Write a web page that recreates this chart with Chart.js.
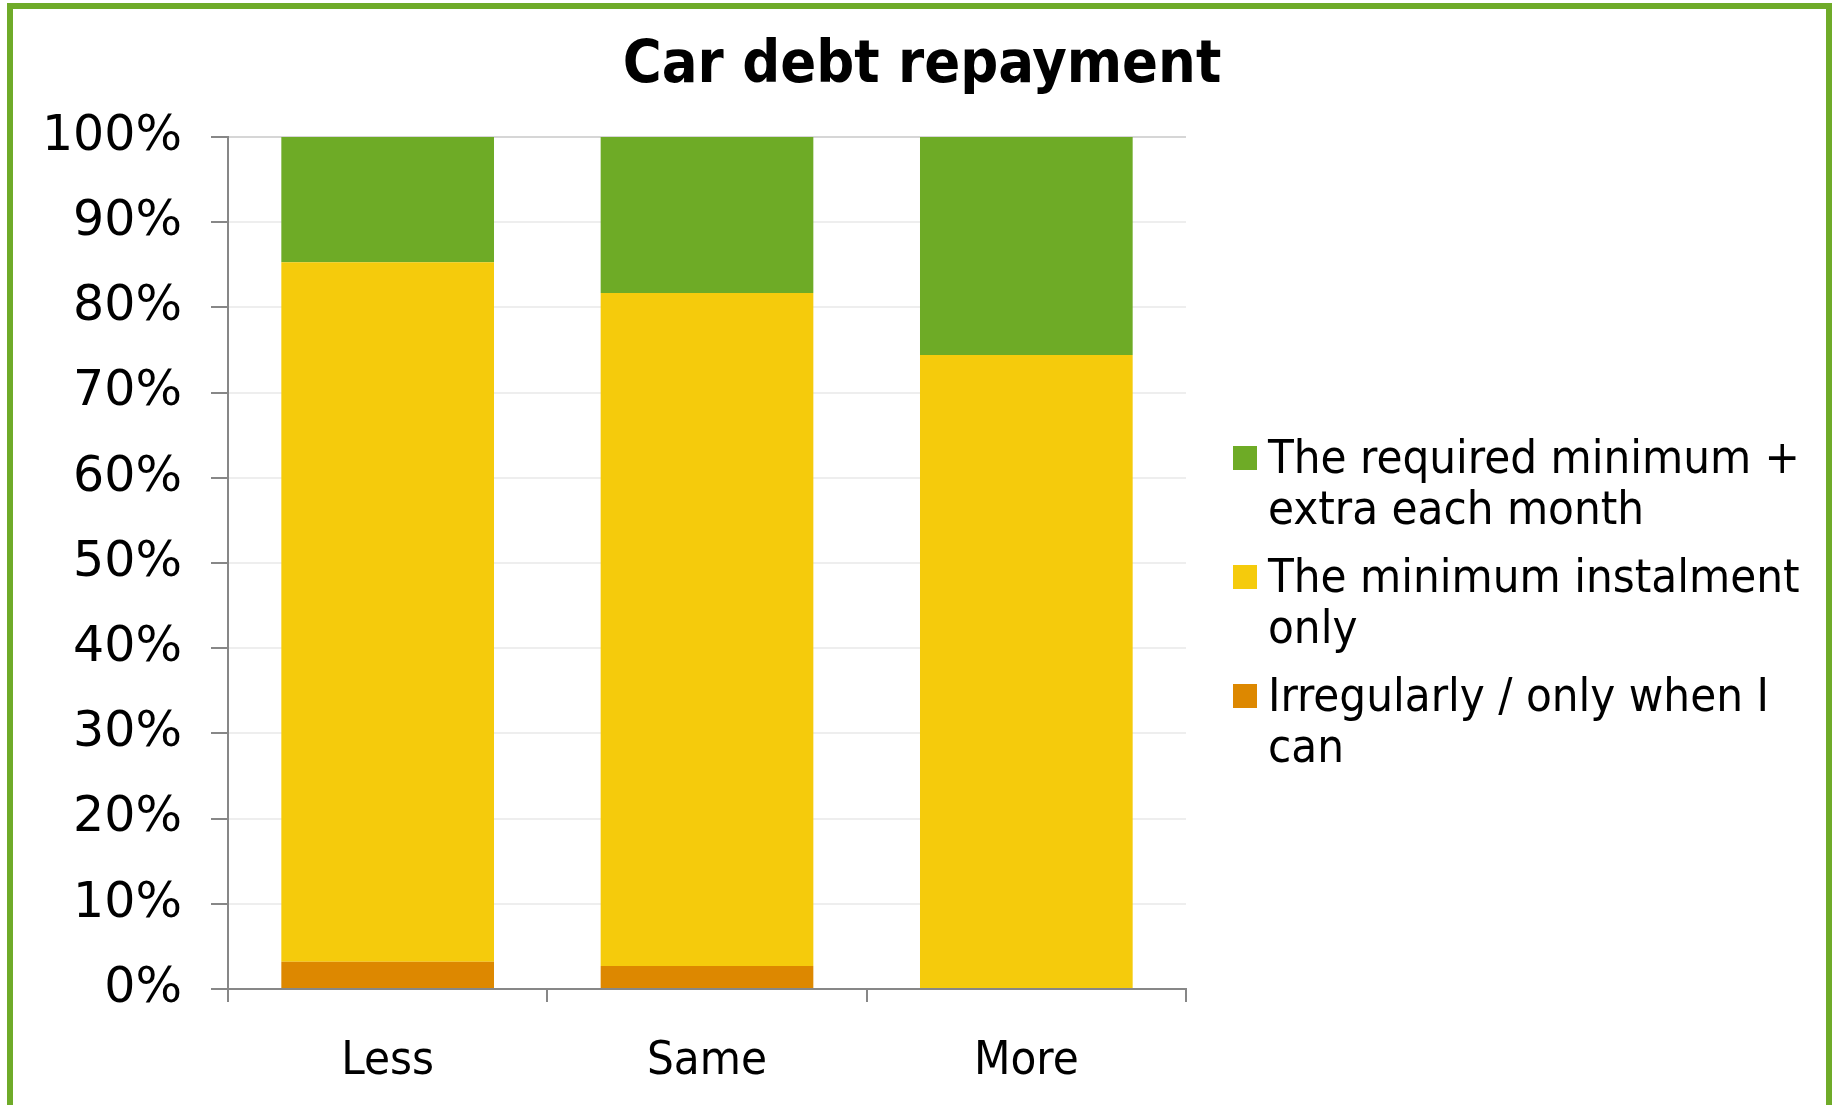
<!DOCTYPE html>
<html>
<head>
<meta charset="utf-8">
<title>Car debt repayment</title>
<script src="https://cdn.jsdelivr.net/npm/chart.js@4/dist/chart.umd.min.js"></script>
<style>
  html, body { margin: 0; padding: 0; background: #ffffff; }
  body { width: 1834px; height: 1105px; position: relative; overflow: hidden; }
  #frame {
    position: absolute; left: 7px; top: 3px; width: 1825px; height: 1200px;
    box-sizing: border-box; border: 6px solid #6fab29; background: #ffffff;
  }
  #chart { position: absolute; left: 0; top: 0; }
</style>
</head>
<body>
<div id="frame"></div>
<canvas id="chart" width="1834" height="1105"></canvas>
<script>
// Categories and stacked shares (percent of respondents)
const categories = ['Less', 'Same', 'More'];
const irregularShare = [3.2, 2.7, 0];
const minimumOnlyShare = [82.1, 79.0, 74.4];
const extraShare = [14.7, 18.3, 25.6];

// Series names, split where the legend wraps them
const irregularName = ['Irregularly / only when I', 'can'];
const minimumOnlyName = ['The minimum instalment', 'only'];
const extraName = ['The required minimum +', 'extra each month'];

const yTicks = [0, 10, 20, 30, 40, 50, 60, 70, 80, 90, 100];
const chartTitle = 'Car debt repayment';

const AXIS_GREY = '#878787';
const GRID_GREY = '#eeeeee';
const EDGE_GREY = '#d6d6d6';
const LABEL_FONT = "'DejaVu Sans Condensed', 'DejaVu Sans', sans-serif";

// Title centred over the whole frame, and a wrapped legend listed
// top-down in reverse stacking order
const frameDecor = {
  id: 'frameDecor',
  afterDraw(chart) {
    const ctx = chart.ctx;
    ctx.save();
    ctx.fillStyle = '#000000';
    ctx.textAlign = 'center';
    ctx.textBaseline = 'alphabetic';
    ctx.font = 'bold 59px ' + LABEL_FONT;
    ctx.fillText(chartTitle, 922, 82);

    const sets = chart.data.datasets.slice().reverse();
    const boxX = 1233, boxSize = 24, textX = 1268;
    let top = 446;
    ctx.font = '47px ' + LABEL_FONT;
    ctx.textAlign = 'left';
    sets.forEach(ds => {
      ctx.fillStyle = ds.backgroundColor;
      ctx.fillRect(boxX, top, boxSize, boxSize);
      ctx.fillStyle = '#000000';
      ds.nameLines.forEach((line, i) => {
        ctx.fillText(line, textX, top + 27 + i * 51);
      });
      top += 119;
    });
    ctx.restore();
  }
};

new Chart(document.getElementById('chart'), {
  type: 'bar',
  data: {
    labels: categories,
    datasets: [
      { label: irregularName.join(' '), nameLines: irregularName, data: irregularShare, backgroundColor: '#dd8800' },
      { label: minimumOnlyName.join(' '), nameLines: minimumOnlyName, data: minimumOnlyShare, backgroundColor: '#f5cb0c' },
      { label: extraName.join(' '), nameLines: extraName, data: extraShare, backgroundColor: '#6eab26' }
    ]
  },
  options: {
    responsive: false,
    animation: false,
    layout: { padding: { top: 137, left: 0, right: 648, bottom: 0 } },
    datasets: { bar: { categoryPercentage: 1, barPercentage: 0.666, borderWidth: 0 } },
    plugins: {
      legend: { display: false },
      tooltip: { enabled: false },
      title: { display: false }
    },
    scales: {
      x: {
        stacked: true,
        afterFit: s => { s.height = 116; },
        border: { color: AXIS_GREY, width: 2 },
        grid: {
          offset: true,
          lineWidth: 2,
          color: c => (c.index === categories.length ? EDGE_GREY : 'rgba(0,0,0,0)'),
          tickColor: AXIS_GREY,
          tickLength: 13
        },
        ticks: {
          color: '#000000',
          padding: 32,
          font: { family: LABEL_FONT, size: 47 }
        }
      },
      y: {
        stacked: true,
        min: 0,
        max: 100,
        afterFit: s => { s.width = 228; },
        afterBuildTicks: s => { s.ticks = yTicks.map(v => ({ value: v })); },
        border: { color: AXIS_GREY, width: 2 },
        grid: {
          lineWidth: 2,
          color: c => (c.tick && c.tick.value === 100 ? EDGE_GREY : GRID_GREY),
          tickColor: AXIS_GREY,
          tickLength: 17
        },
        ticks: {
          color: '#000000',
          padding: 29,
          font: { family: "'DejaVu Sans', sans-serif", size: 49 },
          callback: v => v + '%'
        }
      }
    }
  },
  plugins: [frameDecor]
});
</script>
</body>
</html>
